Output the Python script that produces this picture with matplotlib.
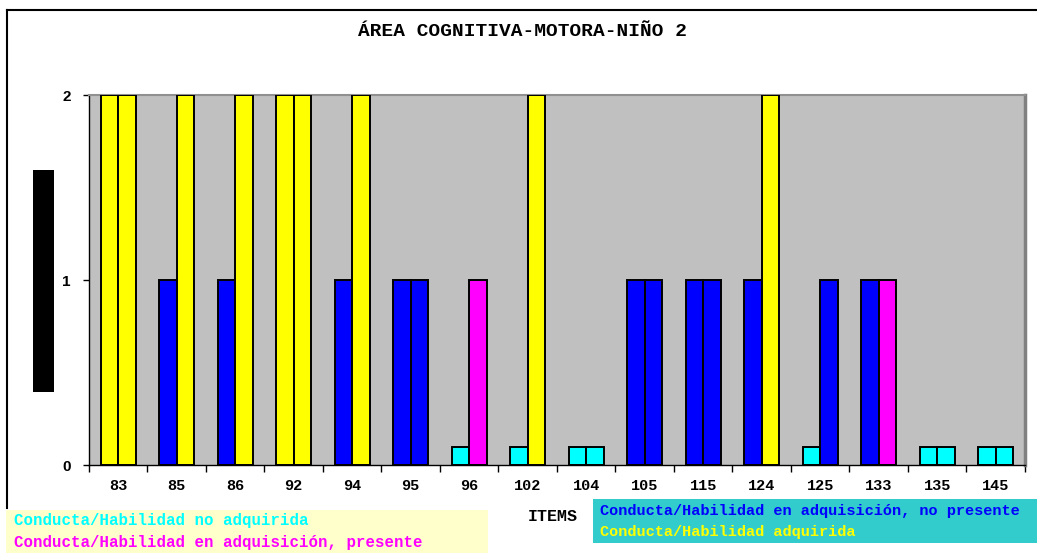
import numpy as np
from matplotlib import pyplot as plt
from matplotlib.patches import Rectangle
from matplotlib.lines import Line2D

# item numbers on the x axis
items = ['83', '85', '86', '92', '94', '95', '96', '102',
         '104', '105', '115', '124', '125', '133', '135', '145']

# two bars per item; 0.1 is the stub drawn for "no adquirida"
valores_a = [2, 1, 1, 2, 1, 1, 0.1, 0.1, 0.1, 1, 1, 1, 0.1, 1, 0.1, 0.1]
valores_b = [2, 2, 2, 2, 2, 1, 1, 2, 0.1, 1, 1, 2, 1, 1, 0.1, 0.1]

# state of each bar: N = no adquirida, P = en adquisicion presente,
# E = en adquisicion no presente, A = adquirida
estado_a = ['A', 'E', 'E', 'A', 'E', 'E', 'N', 'N', 'N', 'E', 'E', 'E', 'N', 'E', 'N', 'N']
estado_b = ['A', 'A', 'A', 'A', 'A', 'E', 'P', 'A', 'N', 'E', 'E', 'A', 'E', 'P', 'N', 'N']

colores = {'N': '#00FFFF', 'P': '#FF00FF', 'E': '#0000FF', 'A': '#FFFF00'}

mono = 'Liberation Mono'

fig = plt.figure(figsize=(10.37, 5.53), dpi=100)
ax = fig.add_axes([0.0858, 0.1591, 0.9026, 0.6691])
ax.set_facecolor('#C0C0C0')

x = np.arange(len(items))
w = 0.3
ax.bar(x - w / 2, valores_a, w, color=[colores[e] for e in estado_a],
       edgecolor='black', linewidth=1.4, zorder=3)
ax.bar(x + w / 2, valores_b, w, color=[colores[e] for e in estado_b],
       edgecolor='black', linewidth=1.4, zorder=3)

ax.set_xlim(-0.5, len(items) - 0.5)
ax.set_ylim(0, 2)

ax.set_yticks([0, 1, 2])
ax.set_yticklabels(['0', '1', '2'], fontfamily='Liberation Sans',
                   fontweight='bold', fontsize=11)
ax.tick_params(axis='y', length=4, width=1, pad=9)

ax.set_xticks(x)
ax.set_xticklabels(items, fontfamily=mono, fontweight='bold', fontsize=11)
ax.tick_params(axis='x', which='major', length=0, pad=10)
ax.set_xticks(np.arange(len(items) + 1) - 0.5, minor=True)
ax.tick_params(axis='x', which='minor', length=5, width=1)

ax.spines['left'].set_color('black')
ax.spines['bottom'].set_color('black')
ax.spines['left'].set_linewidth(1)
ax.spines['bottom'].set_linewidth(1)
ax.spines['top'].set_color('#909090')
ax.spines['top'].set_linewidth(1.5)
ax.spines['right'].set_color('#808080')
ax.spines['right'].set_linewidth(2.5)

fig.text(0.5034, 0.9439, 'ÁREA COGNITIVA-MOTORA-NIÑO 2', ha='center', va='center',
         fontfamily=mono, fontweight='bold', fontsize=14)

# chart frame (left and top edges)
fig.add_artist(Line2D([7 / 1037, 7 / 1037], [1 - 9.5 / 553, 1 - 508 / 553],
                      color='black', linewidth=1.5))
fig.add_artist(Line2D([7 / 1037, 1.0], [1 - 9.5 / 553, 1 - 9.5 / 553],
                      color='black', linewidth=1.5))

# empty axis title block
fig.patches.append(Rectangle((33 / 1037, 0.2911), 21 / 1037, 0.4014,
                             transform=fig.transFigure, facecolor='black'))

fig.text(0.533, 0.0651, 'ITEMS', ha='center', va='center',
         fontfamily=mono, fontweight='bold', fontsize=12)

# legend boxes
fig.patches.append(Rectangle((6 / 1037, 0), 482 / 1037, 43 / 553,
                             transform=fig.transFigure, facecolor='#FFFFCC'))
fig.text(14 / 1037, 0.0579, 'Conducta/Habilidad no adquirida', va='center',
         color=colores['N'], fontfamily=mono, fontweight='bold', fontsize=11.3)
fig.text(14 / 1037, 0.0181, 'Conducta/Habilidad en adquisición, presente', va='center',
         color=colores['P'], fontfamily=mono, fontweight='bold', fontsize=11.3)

fig.patches.append(Rectangle((593 / 1037, 1 - 543 / 553), 444 / 1037, 44 / 553,
                             transform=fig.transFigure, facecolor='#33CCCC'))
fig.text(600 / 1037, 0.0759, 'Conducta/Habilidad en adquisición, no presente', va='center',
         color=colores['E'], fontfamily=mono, fontweight='bold', fontsize=11)
fig.text(600 / 1037, 0.038, 'Conducta/Habilidad adquirida', va='center',
         color=colores['A'], fontfamily=mono, fontweight='bold', fontsize=11)

fig.savefig('out.png', dpi=100)
